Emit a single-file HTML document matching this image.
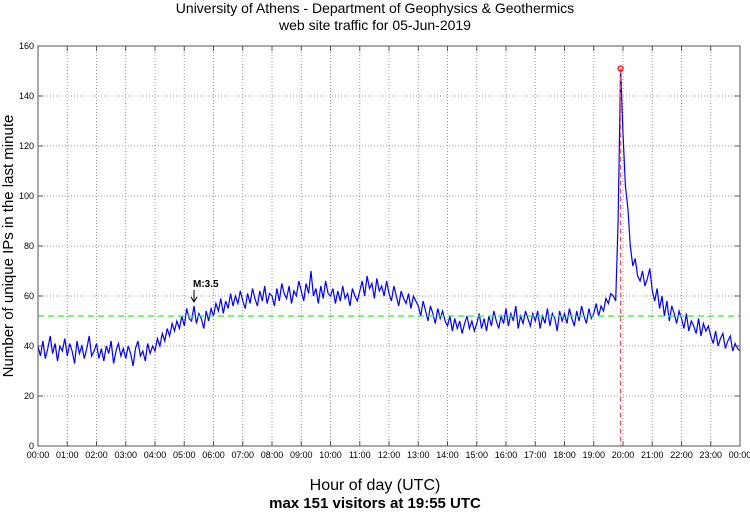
<!DOCTYPE html>
<html><head><meta charset="utf-8"><style>
body{margin:0;background:#fff;width:750px;height:511px;overflow:hidden;font-family:"Liberation Sans",sans-serif}
</style></head><body>
<svg id="chart" width="750" height="511" xmlns="http://www.w3.org/2000/svg" font-family="Liberation Sans, sans-serif">
<text x="375" y="13" text-anchor="middle" font-size="14">University of Athens - Department of Geophysics &amp; Geothermics</text>
<text x="375" y="30" text-anchor="middle" font-size="14">web site traffic for 05-Jun-2019</text>
<text transform="translate(13,246) rotate(-90)" text-anchor="middle" font-size="15">Number of unique IPs in the last minute</text>
<text x="375" y="490" text-anchor="middle" font-size="16">Hour of day (UTC)</text>
<text x="375" y="508" text-anchor="middle" font-size="15" font-weight="bold">max 151 visitors at 19:55 UTC</text>
<g id="grid"></g><g id="series"></g><g id="axes"></g>
</svg>
<script>
const yTicks=[0,20,40,60,80,100,120,140,160];
const xTickHours=[0,1,2,3,4,5,6,7,8,9,10,11,12,13,14,15,16,17,18,19,20,21,22,23,24];
const meanValue=52;
const peakValue=151;
const peakMinute=1195;
const quakeLabel="M:3.5";
const quakeMinute=320;
const visitors=[
40,36,42,35,39,44,37,41,34,40,38,43,
36,41,38,33,42,37,40,35,39,44,36,38,
41,35,39,34,40,37,42,33,38,41,36,39,
35,40,37,32,39,42,36,38,34,41,37,40,
38,43,40,45,42,47,44,49,46,50,47,52,
48,55,51,50,56,49,53,51,47,54,50,55,
52,57,54,59,53,58,55,61,56,60,57,62,
58,55,61,57,63,59,56,62,58,64,57,61,
60,56,63,58,65,61,59,64,57,62,60,66,
62,58,65,61,70,60,63,57,64,59,66,61,
60,63,57,62,58,64,59,61,56,63,60,58,
62,66,60,68,63,65,59,67,62,64,60,66,
61,58,64,60,56,62,59,57,61,55,60,58,
56,52,58,54,50,56,53,49,55,51,54,50,
48,52,46,51,47,50,45,49,52,47,50,46,
49,53,47,51,46,52,48,54,50,47,52,49,
55,48,53,50,56,47,52,49,54,51,48,53,
50,54,47,52,49,55,48,53,51,46,54,50,
53,49,55,51,48,54,50,56,52,49,55,51,
53,57,52,56,54,59,57,61,60,58,90,151,
125,104,95,80,72,75,68,66,70,64,67,71,
62,58,63,55,60,52,58,50,56,53,49,54,
51,47,53,46,50,48,45,51,44,49,46,48,
44,41,46,40,43,45,39,42,44,38,41,39,38];
const stepMinutes=5;
const X0=38,X1=740,Y0=446,Y1=46;
const xs=m=>X0+(m/1440)*(X1-X0);
const ys=v=>Y0-(v/160)*(Y0-Y1);
const NS="http://www.w3.org/2000/svg";
function mk(tag,parent,attrs){const e=document.createElementNS(NS,tag);for(const k in attrs)e.setAttribute(k,attrs[k]);parent.appendChild(e);return e;}
const grid=document.getElementById('grid'),series=document.getElementById('series'),axes=document.getElementById('axes');
yTicks.forEach(v=>{
  const l=mk('line',grid,{x1:X0,x2:X1,y1:ys(v),y2:ys(v),stroke:'#999','stroke-dasharray':'1,2','stroke-width':1});
  
  
  mk('line',axes,{x1:X0,x2:X0+5,y1:ys(v),y2:ys(v),stroke:'#555'});
  mk('line',axes,{x1:X1-5,x2:X1,y1:ys(v),y2:ys(v),stroke:'#555'});
  const t=mk('text',axes,{x:X0-4,y:ys(v)+3,'text-anchor':'end','font-size':9});
  t.textContent=v;
  
  
});
xTickHours.forEach(h=>{
  const x=xs(h*60);
  const l=mk('line',grid,{x1:x,x2:x,y1:Y1,y2:Y0,stroke:'#999','stroke-dasharray':'1,2','stroke-width':1});
  
  
  mk('line',axes,{x1:x,x2:x,y1:Y0,y2:Y0-5,stroke:'#555'});
  mk('line',axes,{x1:x,x2:x,y1:Y1,y2:Y1+5,stroke:'#555'});
  const t=mk('text',axes,{x:x,y:Y0+12,'text-anchor':'middle','font-size':9});
  t.textContent=String(h%24===0&&h>0?0:h).padStart(2,'0')+':00';
  
  
});
const box=mk('rect',axes,{x:X0,y:Y1,width:X1-X0,height:Y0-Y1,fill:'none',stroke:'#555'});


const pts=visitors.map((v,i)=>xs(i*stepMinutes).toFixed(1)+','+ys(v).toFixed(1)).join(' ');
const line=mk('polyline',series,{points:pts,fill:'none',stroke:'#0000ff','stroke-width':1.2});


const mean=mk('line',series,{x1:X0,x2:X1,y1:ys(meanValue),y2:ys(meanValue),stroke:'#33ee33','stroke-dasharray':'6,4','stroke-width':1.2});


const pv=mk('line',series,{x1:xs(peakMinute),x2:xs(peakMinute),y1:ys(peakValue),y2:Y0,stroke:'#ee5555','stroke-dasharray':'5,3','stroke-width':1.2});


const pc=mk('circle',series,{cx:xs(peakMinute),cy:ys(peakValue),r:2.5,fill:'none',stroke:'#ee0000','stroke-width':1.3});


const qx=xs(quakeMinute);
const qa=mk('path',series,{d:`M${qx},290 L${qx},301 M${qx-3},297 L${qx},302 L${qx+3},297`,fill:'none',stroke:'#000','stroke-width':1});


const qt=mk('text',series,{x:qx-1,y:287,'font-size':10,'font-weight':'bold'});
qt.textContent=quakeLabel;


</script>
</body></html>
